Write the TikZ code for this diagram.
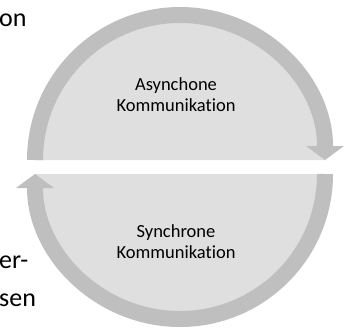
\documentclass[tikz,border=0pt]{standalone}
\usepackage{fontspec}
\setmainfont{Carlito}[RawFeature=-liga]
\usetikzlibrary{arrows.meta}
\definecolor{ringgrey}{RGB}{191,191,191}
\definecolor{discgrey}{RGB}{223,223,223}

\begin{document}
\begin{tikzpicture}[x=1pt,y=1pt,
  ring/.style={draw=ringgrey, line width=16pt},
  cyclehead/.style={-{Triangle[width=38pt,length=14pt,line width=0pt]}},
  phasetext/.style={align=center, font=\fontsize{18.5}{21}\selectfont},
  margintext/.style={anchor=base west, inner sep=0pt, font=\fontsize{26}{30}\selectfont}]
\useasboundingbox (0,0) rectangle (344,330);
\coordinate (up) at (180,170);
\coordinate (lo) at (180,156);

\fill[discgrey] (up) ++(180:145) arc (180:0:145) -- cycle;
\fill[discgrey] (lo) ++(0:145) arc (0:-180:145) -- cycle;

\draw[ring, cyclehead] (up) ++(180:145) arc (180:0:145);
\draw[ring, cyclehead] (lo) ++(0:145) arc (0:-180:145);

\node[phasetext] (async) at (176,235) {Asynchone\\Kommunikation};
\node[phasetext] (sync) at (176,88) {Synchrone\\Kommunikation};

\node[margintext] (on) at (-1,303) {on};
\node[margintext] (er) at (-1,62) {er-};
\node[margintext] (sen) at (-1,24) {sen};
\end{tikzpicture}
\end{document}
